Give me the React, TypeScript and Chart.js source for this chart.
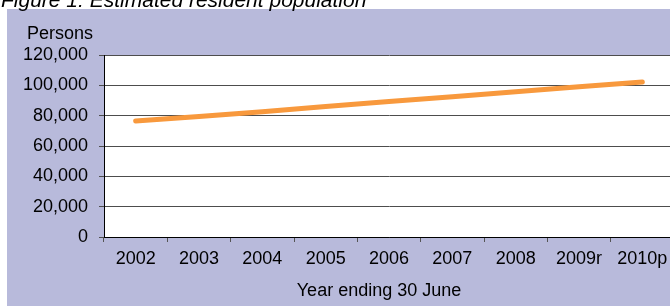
import React, { useEffect, useRef } from "react";
import { Chart, registerables } from "chart.js";

Chart.register(...registerables);

const categories: string[] = ["2002", "2003", "2004", "2005", "2006", "2007", "2008", "2009r", "2010p"];
const persons: number[] = [76500, 79500, 82600, 86000, 89300, 92500, 95800, 99000, 102200];
const yTicks: number[] = [0, 20000, 40000, 60000, 80000, 100000, 120000];
const titleText = "Figure 1: Estimated resident population";
const yAxisTitle = "Persons";
const xAxisTitle = "Year ending 30 June";

const FONT = "'Liberation Sans', Arial, sans-serif";
const BG = "#b8badb";

const decorPlugin = {
  id: "decor",
  beforeDraw(chart: any) {
    const { ctx, chartArea } = chart;
    ctx.save();
    ctx.fillStyle = "#ffffff";
    ctx.fillRect(0, 0, chart.width, chart.height);
    ctx.fillStyle = BG;
    ctx.fillRect(7, 9, chart.width - 7, chart.height - 9);
    ctx.fillStyle = "#ffffff";
    ctx.fillRect(chartArea.left, chartArea.top, chartArea.right - chartArea.left, chartArea.bottom - chartArea.top);
    ctx.fillStyle = "#000000";
    ctx.font = `italic 21px ${FONT}`;
    ctx.textAlign = "left";
    ctx.textBaseline = "alphabetic";
    ctx.fillText(titleText, 1, 7);
    ctx.font = `18px ${FONT}`;
    ctx.textAlign = "center";
    ctx.fillText(yAxisTitle, 60, 39);
    ctx.fillText(xAxisTitle, 379, 296);
    ctx.restore();
  },
};

export default function App() {
  const ref = useRef<HTMLCanvasElement | null>(null);
  useEffect(() => {
    if (!ref.current) return;
    const chart = new Chart(ref.current, {
      type: "line",
      data: {
        labels: categories,
        datasets: [
          {
            label: "Persons",
            data: persons,
            borderColor: "#f8993d",
            backgroundColor: "#f8993d",
            borderWidth: 5,
            borderCapStyle: "round",
            pointRadius: 0,
            tension: 0,
          },
        ],
      },
      options: {
        responsive: false,
        animation: false,
        layout: { padding: { top: 55, right: 6, left: 0, bottom: 0 } },
        plugins: { legend: { display: false }, tooltip: { enabled: false }, title: { display: false } },
        scales: {
          x: {
            type: "category",
            offset: true,
            grid: { display: true, drawOnChartArea: false, tickLength: 5, color: "#555555", offset: true },
            border: { display: true, color: "#000000", width: 1 },
            ticks: { color: "#000000", font: { family: FONT, size: 18 }, padding: 6, maxRotation: 0, autoSkip: false },
            afterFit: (s: any) => {
              s.height = 69;
            },
          },
          y: {
            min: 0,
            max: 120000,
            afterBuildTicks: (s: any) => {
              s.ticks = yTicks.map((v) => ({ value: v }));
            },
            grid: { color: "#4d4d4d", lineWidth: 1, tickLength: 5 },
            border: { display: true, color: "#000000", width: 1 },
            ticks: {
              color: "#000000",
              font: { family: FONT, size: 18 },
              padding: 11,
              callback: (v: any) => Number(v).toLocaleString("en-US"),
            },
            afterFit: (s: any) => {
              s.width = 104;
            },
          },
        },
      },
      plugins: [decorPlugin],
    });
    return () => chart.destroy();
  }, []);
  return (
    <div style={{ position: "absolute", left: 0, top: 0, width: 670, height: 306, overflow: "hidden" }}>
      <canvas ref={ref} width={680} height={306} style={{ display: "block" }} />
    </div>
  );
}
